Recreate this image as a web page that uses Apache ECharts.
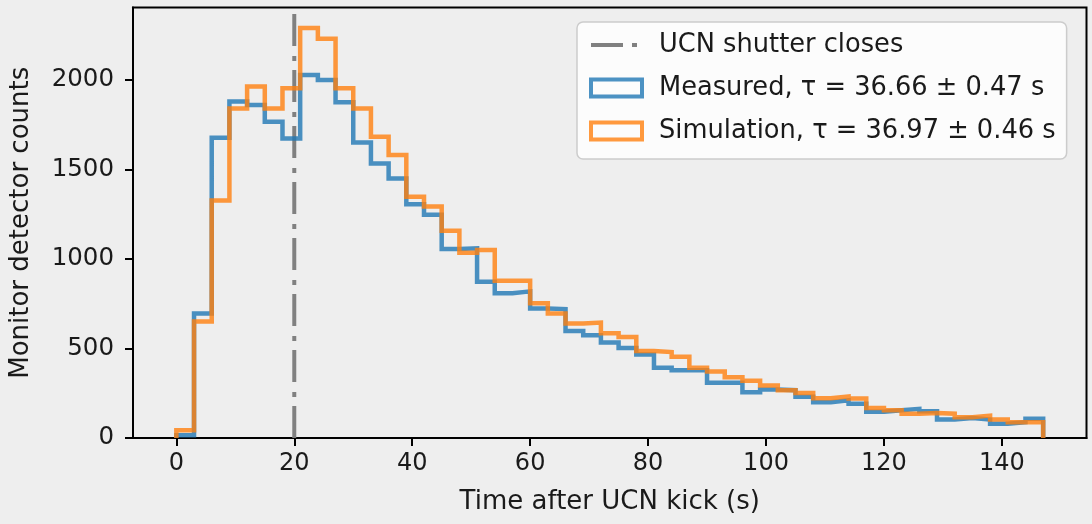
<!DOCTYPE html>
<html>
<head>
<meta charset="utf-8">
<script src="https://cdn.jsdelivr.net/npm/echarts@6/dist/echarts.min.js"></script>
<style>
html,body{margin:0;padding:0;background:#eeeeee;}
#chart{width:1092px;height:524px;}
</style>
</head>
<body>
<div id="chart"></div>
<script>
// Histogram bins: 3 s wide, from 0 to 147 s
const binWidth = 3;
const binStart = 0;
const measured = [15, 695, 1677, 1879, 1860, 1767, 1673, 2028, 2000, 1875, 1651, 1533, 1449, 1306, 1247, 1056, 1060, 873, 809, 819, 723, 720, 598, 574, 533, 502, 467, 393, 379, 379, 308, 308, 256, 271, 267, 230, 200, 211, 191, 146, 155, 163, 149, 103, 112, 103, 80, 88, 107];
const simulation = [43, 650, 1327, 1841, 1963, 1841, 1953, 2290, 2230, 1953, 1841, 1682, 1580, 1348, 1293, 1157, 1034, 1050, 878, 878, 752, 695, 639, 645, 585, 564, 486, 480, 454, 393, 372, 340, 320, 293, 267, 252, 222, 232, 220, 168, 155, 136, 140, 136, 116, 125, 103, 88, 88];
const shutterTime = 20;
const xTicks = [0, 20, 40, 60, 80, 100, 120, 140];
const yTicks = [0, 500, 1000, 1500, 2000];
const seriesNames = ['UCN shutter closes', 'Measured, τ = 36.66 ± 0.47 s', 'Simulation, τ = 36.97 ± 0.46 s'];

function stepPoints(vals) {
  const pts = [[binStart, 0]];
  vals.forEach((v, i) => {
    pts.push([binStart + i * binWidth, v]);
    pts.push([binStart + (i + 1) * binWidth, v]);
  });
  pts.push([binStart + vals.length * binWidth, 0]);
  return pts;
}

const xMax = binStart + measured.length * binWidth;
const xPad = (xMax - binStart) * 0.05;
const yTop = Math.max(...measured, ...simulation) * 1.05;

const FONT = 'DejaVu Sans';
const TXT = '#1a1a1a';
const dashDot = [32, 9, 5, 10];

const chart = echarts.init(document.getElementById('chart'), null, {renderer: 'canvas'});
chart.setOption({
  animation: false,
  backgroundColor: '#eeeeee',
  grid: {
    left: 128, top: 7.5, right: 5.5, bottom: 86,
    show: true, backgroundColor: '#eeeeee', borderColor: '#000', borderWidth: 2
  },
  xAxis: {
    type: 'value',
    min: binStart - xPad, max: xMax + xPad,
    name: 'Time after UCN kick (s)',
    nameLocation: 'middle', nameGap: 51,
    nameTextStyle: {fontFamily: FONT, fontSize: 26, color: TXT},
    axisLine: {show: true, onZero: false, lineStyle: {color: '#000', width: 2}},
    axisTick: {show: true, inside: false, length: 8, lineStyle: {color: '#000', width: 2}, customValues: xTicks},
    axisLabel: {fontFamily: FONT, fontSize: 24, color: TXT, margin: 14, customValues: xTicks,
                formatter: v => String(v)},
    splitLine: {show: false}
  },
  yAxis: {
    type: 'value',
    min: 0, max: yTop,
    name: 'Monitor detector counts',
    nameLocation: 'middle', nameGap: 99, nameRotate: 90,
    nameTextStyle: {fontFamily: FONT, fontSize: 26, color: TXT},
    axisLine: {show: true, onZero: false, lineStyle: {color: '#000', width: 2}},
    axisTick: {show: true, inside: false, length: 8, lineStyle: {color: '#000', width: 2}, customValues: yTicks},
    axisLabel: {fontFamily: FONT, fontSize: 24.5, color: TXT, margin: 19, customValues: yTicks,
                formatter: v => String(v)},
    splitLine: {show: false}
  },
  legend: {
    orient: 'vertical',
    left: 577, top: 22,
    padding: [8, 11, 13, 12],
    itemWidth: 51, itemHeight: 17, itemGap: 13,
    backgroundColor: 'rgba(255,255,255,0.8)',
    borderColor: '#cccccc', borderWidth: 1.5, borderRadius: 6,
    textStyle: {fontFamily: FONT, fontSize: 25.7, color: TXT, lineHeight: 30, padding: [0, 0, 0, 12]},
    data: [
      {name: seriesNames[0], itemStyle: {opacity: 0, color: 'rgba(0,0,0,0)', borderWidth: 0},
       lineStyle: {color: '#808080', width: 4, type: dashDot, cap: 'butt'}},
      {name: seriesNames[1], icon: 'rect',
       itemStyle: {color: 'rgba(0,0,0,0)', borderColor: 'rgba(31,119,180,0.8)', borderWidth: 4}},
      {name: seriesNames[2], icon: 'rect',
       itemStyle: {color: 'rgba(0,0,0,0)', borderColor: 'rgba(255,127,14,0.8)', borderWidth: 4}}
    ]
  },
  series: [
    {
      name: seriesNames[0], type: 'line', symbol: 'none', silent: true,
      data: [[shutterTime, 0], [shutterTime, yTop]],
      lineStyle: {color: '#808080', width: 4, type: dashDot, cap: 'butt'},
      itemStyle: {color: '#808080'},
      z: 1
    },
    {
      name: seriesNames[1], type: 'line', symbol: 'none',
      data: stepPoints(measured),
      lineStyle: {color: '#1f77b4', width: 4.5, opacity: 0.8, join: 'miter', cap: 'butt'},
      itemStyle: {color: '#1f77b4'},
      z: 2
    },
    {
      name: seriesNames[2], type: 'line', symbol: 'none',
      data: stepPoints(simulation),
      lineStyle: {color: '#ff7f0e', width: 4.5, opacity: 0.8, join: 'miter', cap: 'butt'},
      itemStyle: {color: '#ff7f0e'},
      z: 3
    }
  ]
});
</script>
</body>
</html>
